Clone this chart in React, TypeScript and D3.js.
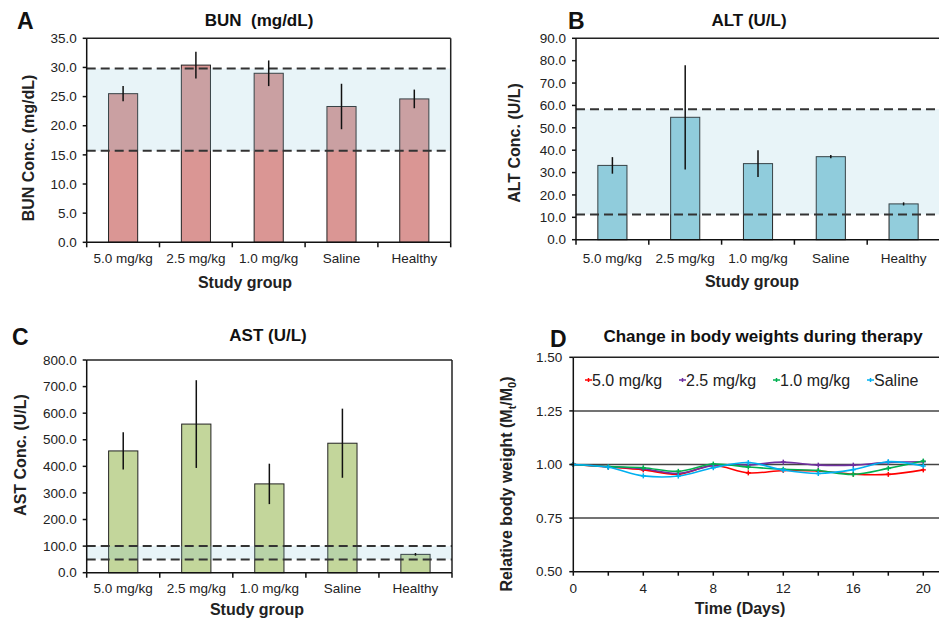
import React from "react";
import * as d3 from "d3";

const groups = ["5.0 mg/kg", "2.5 mg/kg", "1.0 mg/kg", "Saline", "Healthy"];

const bunMean = [25.5, 30.4, 29.0, 23.3, 24.6];
const bunErr = [1.3, 2.3, 2.2, 3.9, 1.6];
const bunRange = [15.7, 29.8];

const altMean = [33.2, 54.7, 34.0, 37.1, 16.0];
const altErr = [3.7, 23.3, 6.0, 0.7, 0.7];
const altRange = [11.3, 58.3];

const astMean = [458, 559, 334, 487, 69];
const astErr = [70, 165, 76, 130, 5];
const astRange = [50, 100];

const days = [0, 2, 4, 6, 8, 10, 12, 14, 16, 18, 20];
const seriesNames = ["5.0 mg/kg", "2.5 mg/kg", "1.0 mg/kg", "Saline"];
const w50 = [1.0, 0.988, 0.975, 0.955, 0.995, 0.961, 0.972, 0.97, 0.955, 0.954, 0.975];
const w25 = [1.0, 0.99, 0.98, 0.958, 0.996, 0.998, 1.011, 0.997, 0.997, 1.01, 1.013];
const w10 = [1.0, 0.99, 0.985, 0.968, 1.002, 0.988, 0.978, 0.972, 0.954, 0.982, 1.016];
const wSal = [1.0, 0.987, 0.947, 0.946, 0.985, 1.009, 0.974, 0.958, 0.976, 1.013, 0.993];
const seriesColors = ["#ff0000", "#7030a0", "#00b050", "#00b0f0"];
const weightTicks = [0.5, 0.75, 1.0, 1.25, 1.5];
const dayTicks = [0, 4, 8, 12, 16, 20];

const FONT = "'Liberation Sans', Arial, Helvetica, sans-serif";

type BarProps = {
  x0: number; x1: number; yTop: number; yBot: number;
  max: number; step: number;
  means: number[]; errs: number[]; range: number[];
  color: string;
  title: string; titleX: number; titleY: number;
  letter: string; letterX: number; letterY: number;
  yTitle: string; yTitleX: number; yTitleY: number;
  xTitleX: number; xTitleY: number; tickLabelY: number;
};

function BarPanel(p: BarProps) {
  const x = d3.scaleBand<string>().domain(groups).range([p.x0, p.x1]);
  const y = d3.scaleLinear().domain([0, p.max]).range([p.yBot, p.yTop]);
  const bw = x.bandwidth() * 0.4;
  const ticks = d3.range(0, p.max + p.step / 2, p.step);
  return (
    <g fontFamily={FONT}>
      {groups.map((g, i) => {
        const cx = (x(g) as number) + x.bandwidth() / 2;
        return (
          <rect key={g} x={cx - bw / 2} y={y(p.means[i])} width={bw} height={p.yBot - y(p.means[i])}
            fill={p.color} stroke="#222" strokeWidth={1} />
        );
      })}
      <rect x={p.x0} y={y(p.range[1])} width={p.x1 - p.x0} height={y(p.range[0]) - y(p.range[1])}
        fill="rgb(140,200,220)" fillOpacity={0.2} />
      {p.range.map((r, i) => (
        <line key={i} x1={p.x0} x2={p.x1} y1={y(r)} y2={y(r)} stroke="#333" strokeWidth={2} strokeDasharray="9,5" />
      ))}
      {groups.map((g, i) => {
        const cx = (x(g) as number) + x.bandwidth() / 2;
        return (
          <line key={g} x1={cx} x2={cx} y1={y(p.means[i] + p.errs[i])} y2={y(p.means[i] - p.errs[i])}
            stroke="#111" strokeWidth={1.5} />
        );
      })}
      {/* frame */}
      <line x1={p.x0} x2={p.x1} y1={p.yTop} y2={p.yTop} stroke="#222" strokeWidth={1.5} />
      <line x1={p.x1} x2={p.x1} y1={p.yTop} y2={p.yBot} stroke="#222" strokeWidth={1.5} />
      <line x1={p.x0} x2={p.x0} y1={p.yTop} y2={p.yBot} stroke="#111" strokeWidth={1.5} />
      <line x1={p.x0} x2={p.x1} y1={p.yBot} y2={p.yBot} stroke="#111" strokeWidth={1.5} />
      {ticks.map((t) => (
        <g key={t}>
          <line x1={p.x0 - 4} x2={p.x0} y1={y(t)} y2={y(t)} stroke="#111" strokeWidth={1.5} />
          <text x={p.x0 - 10} y={y(t)} dy="0.35em" textAnchor="end" fontSize={13.5} fill="#222">{t.toFixed(1)}</text>
        </g>
      ))}
      {groups.map((g) => (
        <line key={g} x1={x(g) as number} x2={x(g) as number} y1={p.yBot} y2={p.yBot + 5} stroke="#111" strokeWidth={1.5} />
      ))}
      <line x1={p.x1} x2={p.x1} y1={p.yBot} y2={p.yBot + 5} stroke="#111" strokeWidth={1.5} />
      {groups.map((g) => (
        <text key={g} x={(x(g) as number) + x.bandwidth() / 2} y={p.tickLabelY} textAnchor="middle" fontSize={13.5} fill="#222">{g}</text>
      ))}
      <text x={p.titleX} y={p.titleY} textAnchor="middle" fontSize={17} fontWeight="bold" fill="#111" style={{ whiteSpace: "pre" }}>{p.title}</text>
      <text x={p.letterX} y={p.letterY} fontSize={23} fontWeight="bold" fill="#111">{p.letter}</text>
      <text transform={`translate(${p.yTitleX},${p.yTitleY}) rotate(-90)`} textAnchor="middle" fontSize={16} fontWeight="bold" fill="#222">{p.yTitle}</text>
      <text x={p.xTitleX} y={p.xTitleY} textAnchor="middle" fontSize={16} fontWeight="bold" fill="#222">Study group</text>
    </g>
  );
}

function LinePanel() {
  const x0 = 573.3, x1 = 941, yTop = 357.3, yBot = 571.7;
  const x = d3.scaleLinear().domain([0, 20]).range([x0, 923.3]);
  const y = d3.scaleLinear().domain([0.5, 1.5]).range([yBot, yTop]);
  const all = [w50, w25, w10, wSal];
  const line = d3.line<number>().x((_, i) => x(days[i])).y((v) => y(v)).curve(d3.curveCatmullRom.alpha(0.5));
  const legendX = [585, 679, 773, 867];
  const minorTicks = d3.range(0, 21, 2);
  return (
    <g fontFamily={FONT}>
      {weightTicks.slice(1, 4).map((t) => (
        <line key={t} x1={x0} x2={x1} y1={y(t)} y2={y(t)} stroke="#444" strokeWidth={1.5} />
      ))}
      <line x1={x0} x2={x1} y1={yTop} y2={yTop} stroke="#222" strokeWidth={1.5} />
      {all.map((s, k) => (
        <g key={k}>
          <path d={line(s) || ""} fill="none" stroke={seriesColors[k]} strokeWidth={1.6} />
          {s.map((v, i) => (
            <g key={i}>
              <line x1={x(days[i]) - 2.5} x2={x(days[i]) + 2.5} y1={y(v)} y2={y(v)} stroke={seriesColors[k]} strokeWidth={1.5} />
              <line x1={x(days[i])} x2={x(days[i])} y1={y(v) - 2.5} y2={y(v) + 2.5} stroke={seriesColors[k]} strokeWidth={1.5} />
            </g>
          ))}
        </g>
      ))}
      <line x1={x0} x2={x0} y1={yTop} y2={yBot} stroke="#111" strokeWidth={1.5} />
      <line x1={x0} x2={x1} y1={yBot} y2={yBot} stroke="#111" strokeWidth={1.5} />
      {weightTicks.map((t) => (
        <g key={t}>
          <line x1={x0 - 4} x2={x0} y1={y(t)} y2={y(t)} stroke="#111" strokeWidth={1.5} />
          <text x={x0 - 11} y={y(t)} dy="0.35em" textAnchor="end" fontSize={13.5} fill="#222">{t.toFixed(2)}</text>
        </g>
      ))}
      {minorTicks.map((t) => (
        <line key={t} x1={x(t)} x2={x(t)} y1={yBot} y2={yBot + 4} stroke="#111" strokeWidth={1.5} />
      ))}
      {dayTicks.map((t) => (
        <text key={t} x={x(t)} y={593} textAnchor="middle" fontSize={13.5} fill="#222">{t}</text>
      ))}
      {seriesNames.map((n, k) => (
        <g key={n}>
          <line x1={legendX[k]} x2={legendX[k] + 7} y1={380} y2={380} stroke={seriesColors[k]} strokeWidth={1.5} />
          <line x1={legendX[k] + 3.5} x2={legendX[k] + 3.5} y1={378} y2={382} stroke={seriesColors[k]} strokeWidth={1.5} />
          <text x={legendX[k] + 7} y={386} fontSize={16} fill="#222">{n}</text>
        </g>
      ))}
      <text x={763} y={341.7} textAnchor="middle" fontSize={17} fontWeight="bold" fill="#111">Change in body weights during therapy</text>
      <text x={550} y={346.7} fontSize={23} fontWeight="bold" fill="#111">D</text>
      <text transform={`translate(512,484) rotate(-90)`} textAnchor="middle" fontSize={16} fontWeight="bold" fill="#222">
        Relative body weight (M<tspan fontSize={11} dy={4}>t</tspan><tspan dy={-4}>/M</tspan><tspan fontSize={11} dy={4}>0</tspan><tspan dy={-4}>)</tspan>
      </text>
      <text x={740} y={614} textAnchor="middle" fontSize={16} fontWeight="bold" fill="#222">Time (Days)</text>
    </g>
  );
}

export default function App() {
  return (
    <svg width={939} height={624} style={{ position: "absolute", left: 0, top: 0, background: "#fff" }}>
      <rect width={939} height={624} fill="#fff" />
      <BarPanel x0={86.7} x1={450.7} yTop={38.3} yBot={242.3} max={35} step={5}
        means={bunMean} errs={bunErr} range={bunRange} color="#da9694"
        title="BUN  (mg/dL)" titleX={259} titleY={26} letter="A" letterX={17} letterY={29}
        yTitle="BUN Conc. (mg/dL)" yTitleX={34} yTitleY={148} xTitleX={245} xTitleY={288} tickLabelY={263} />
      <BarPanel x0={576} x1={940} yTop={38.3} yBot={239.7} max={90} step={10}
        means={altMean} errs={altErr} range={altRange} color="#92cddc"
        title="ALT (U/L)" titleX={749} titleY={26} letter="B" letterX={568} letterY={28.5}
        yTitle="ALT Conc. (U/L)" yTitleX={520} yTitleY={143} xTitleX={752} xTitleY={286.5} tickLabelY={263} />
      <BarPanel x0={86.7} x1={452} yTop={360} yBot={572.7} max={800} step={100}
        means={astMean} errs={astErr} range={astRange} color="#c3d69b"
        title="AST (U/L)" titleX={268} titleY={340.7} letter="C" letterX={12} letterY={345}
        yTitle="AST Conc. (U/L)" yTitleX={26} yTitleY={455} xTitleX={257} xTitleY={615} tickLabelY={593.3} />
      <LinePanel />
    </svg>
  );
}
